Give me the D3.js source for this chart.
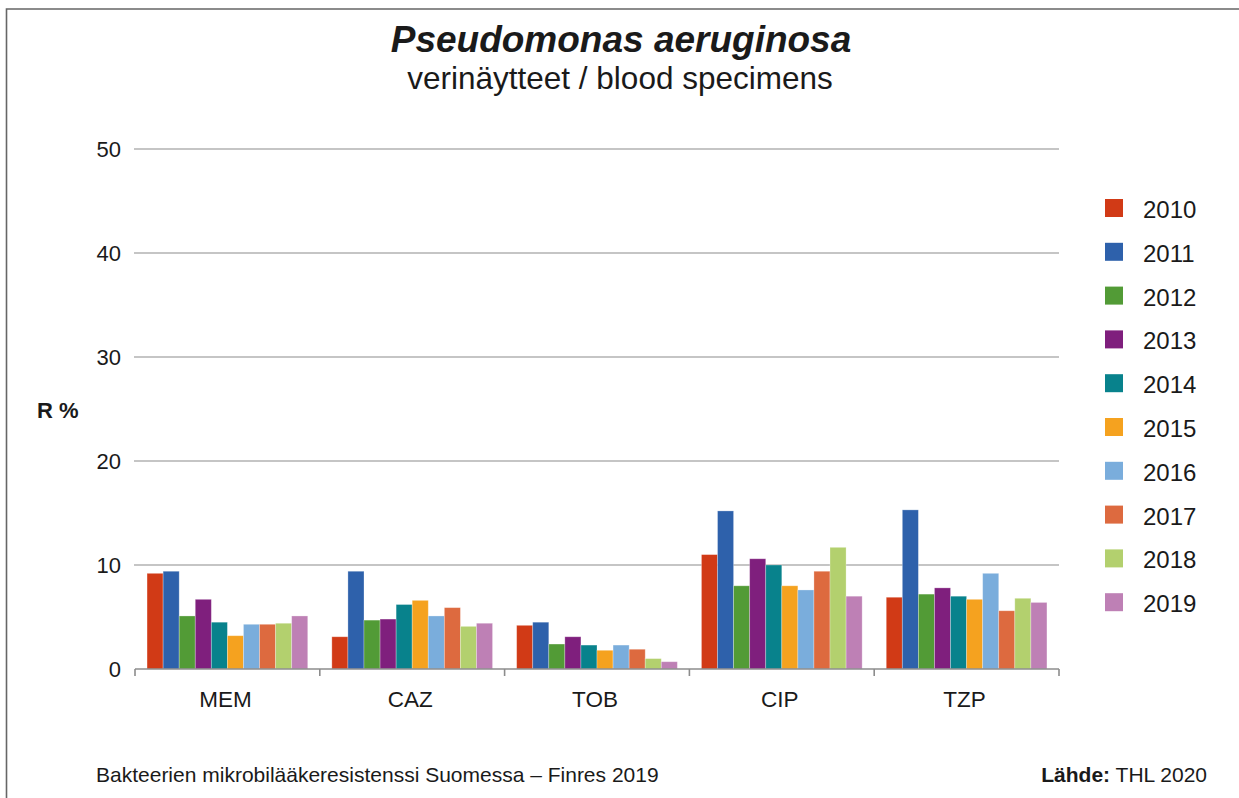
<!DOCTYPE html>
<html>
<head>
<meta charset="utf-8">
<script src="https://cdn.jsdelivr.net/npm/d3@7/dist/d3.min.js"></script>
<style>
    html, body { margin: 0; padding: 0; background: #fff; }
    svg { display: block; font-family: "Liberation Sans", Arial, sans-serif; }
</style>
</head>
<body>
<div id="chart"></div>
<script>
"use strict";

// antibiotics on x axis
const drugs = ["MEM", "CAZ", "TOB", "CIP", "TZP"];
const years = ["2010", "2011", "2012", "2013", "2014", "2015", "2016", "2017", "2018", "2019"];
const yTicks = [0, 10, 20, 30, 40, 50];

// R % per year, one value per drug (MEM, CAZ, TOB, CIP, TZP)
const r2010 = [9.2, 3.1, 4.2, 11.0, 6.9];
const r2011 = [9.4, 9.4, 4.5, 15.2, 15.3];
const r2012 = [5.1, 4.7, 2.4, 8.0, 7.2];
const r2013 = [6.7, 4.8, 3.1, 10.6, 7.8];
const r2014 = [4.5, 6.2, 2.3, 10.0, 7.0];
const r2015 = [3.2, 6.6, 1.8, 8.0, 6.7];
const r2016 = [4.3, 5.1, 2.3, 7.6, 9.2];
const r2017 = [4.3, 5.9, 1.9, 9.4, 5.6];
const r2018 = [4.4, 4.1, 1.0, 11.7, 6.8];
const r2019 = [5.1, 4.4, 0.7, 7.0, 6.4];

const series = [r2010, r2011, r2012, r2013, r2014, r2015, r2016, r2017, r2018, r2019];

const colors = ["#d13a16", "#2e61ab", "#529b36", "#7f1f7d", "#08828c",
                "#f5a21f", "#7aaddc", "#dd6a3f", "#b3d06e", "#be80b5"];

let width = 1239,
    height = 798;

let svg = d3.select("#chart")
    .append("svg")
    .attr("width", width)
    .attr("height", height);

// frame (top and left edge only)
svg.append("path")
    .attr("d", "M6.5,798 V9 H1239")
    .attr("fill", "none")
    .attr("stroke", "#666")
    .attr("stroke-width", 1.6);

// titles
svg.append("text")
    .attr("x", 621).attr("y", 52)
    .attr("text-anchor", "middle")
    .style("font-size", "37px")
    .style("font-weight", "bold")
    .style("font-style", "italic")
    .attr("fill", "#1a1a1a")
    .text("Pseudomonas aeruginosa");

svg.append("text")
    .attr("x", 620).attr("y", 89)
    .attr("text-anchor", "middle")
    .style("font-size", "31.5px")
    .attr("fill", "#1a1a1a")
    .text("verinäytteet / blood specimens");

// plot area
const plot = {left: 135, right: 1059, top: 149, bottom: 669};

let x0 = d3.scaleBand()
    .domain(drugs)
    .range([plot.left, plot.right])
    .padding(0);

let x1 = d3.scaleBand()
    .domain(years)
    .range([0, x0.bandwidth()])
    .paddingInner(0)
    .paddingOuter(0.75);

let y = d3.scaleLinear()
    .domain([0, 50])
    .range([plot.bottom, plot.top]);

// gridlines
svg.append("g")
    .selectAll("line")
    .data(yTicks.filter(d => d > 0))
    .enter()
    .append("line")
    .attr("x1", plot.left - 1)
    .attr("x2", plot.right)
    .attr("y1", d => y(d))
    .attr("y2", d => y(d))
    .attr("stroke", "#8c8c8c")
    .attr("stroke-width", 1.2);

// y axis labels
let yAxis = svg.append("g")
    .attr("transform", `translate(${plot.left - 14},0)`)
    .call(d3.axisLeft(y).tickValues(yTicks).tickSize(0).tickPadding(0));
yAxis.select(".domain").remove();
yAxis.selectAll("text")
    .style("font-size", "22px")
    .style("font-family", "'Liberation Sans', Arial, sans-serif")
    .attr("fill", "#1a1a1a");

svg.append("text")
    .attr("x", 37).attr("y", 418)
    .style("font-size", "22px")
    .style("font-weight", "bold")
    .attr("fill", "#1a1a1a")
    .text("R %");

// bars
let groups = svg.append("g")
    .selectAll("g")
    .data(drugs)
    .enter()
    .append("g")
    .attr("transform", d => `translate(${x0(d)},0)`);

groups.selectAll("rect")
    .data((d, i) => years.map((yr, j) => ({year: yr, value: series[j][i], color: colors[j]})))
    .enter()
    .append("rect")
    .attr("x", d => x1(d.year))
    .attr("width", x1.bandwidth())
    .attr("y", d => y(d.value))
    .attr("height", d => y(0) - y(d.value))
    .attr("fill", d => d.color)
    .attr("stroke", "#fff")
    .attr("stroke-opacity", 0.35)
    .attr("stroke-width", 0.8);

// x axis
let xAxis = svg.append("g")
    .attr("transform", `translate(0,${plot.bottom})`);

xAxis.append("line")
    .attr("x1", plot.left).attr("x2", plot.right)
    .attr("stroke", "#8c8c8c")
    .attr("stroke-width", 1.6);

xAxis.selectAll(".tick")
    .data(drugs.map(d => x0(d)).concat([plot.right]))
    .enter()
    .append("line")
    .attr("x1", d => d).attr("x2", d => d)
    .attr("y1", 0).attr("y2", 7)
    .attr("stroke", "#8c8c8c")
    .attr("stroke-width", 1.6);

xAxis.selectAll("text")
    .data(drugs)
    .enter()
    .append("text")
    .attr("x", d => x0(d) + x0.bandwidth() / 2 - 2)
    .attr("y", 38)
    .attr("text-anchor", "middle")
    .style("font-size", "22.5px")
    .attr("fill", "#1a1a1a")
    .text(d => d);

// legend
let legend = svg.append("g")
    .selectAll("g")
    .data(years)
    .enter()
    .append("g")
    .attr("transform", (d, i) => `translate(1105,${199 + i * 43.8})`);

legend.append("rect")
    .attr("width", 18).attr("height", 18)
    .attr("fill", (d, i) => colors[i]);

legend.append("text")
    .attr("x", 38).attr("y", 19)
    .style("font-size", "24px")
    .attr("fill", "#1a1a1a")
    .text(d => d);

// footer
svg.append("text")
    .attr("x", 96).attr("y", 782)
    .style("font-size", "21px")
    .attr("fill", "#1a1a1a")
    .text("Bakteerien mikrobilääkeresistenssi Suomessa – Finres 2019");

let source = svg.append("text")
    .attr("x", 1207).attr("y", 782)
    .attr("text-anchor", "end")
    .style("font-size", "21px")
    .attr("fill", "#1a1a1a");
source.append("tspan").style("font-weight", "bold").text("Lähde:");
source.append("tspan").text(" THL 2020");
</script>
</body>
</html>
